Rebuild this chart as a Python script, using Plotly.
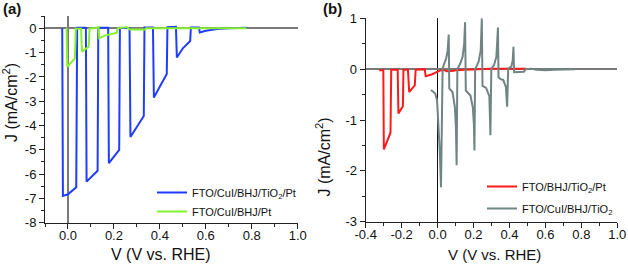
import plotly.graph_objects as go

W, H = 628, 264

# ---------------- Panel (a) data ----------------
a_blue_x = [-0.025, -0.022, 0.0, 0.036, 0.040, 0.078, 0.081, 0.105, 0.129, 0.132, 0.175, 0.178, 0.200, 0.223, 0.226,
            0.268, 0.272, 0.300, 0.330, 0.333, 0.370, 0.374, 0.400, 0.430, 0.433, 0.470, 0.474, 0.500, 0.532, 0.535,
            0.570, 0.574, 0.600, 0.650, 0.700, 0.780]
a_blue_y = [0.0, -6.90, -6.83, -6.54, 0.02, 0.02, -6.31, -6.10, -5.86, 0.02, 0.02, -5.55, -5.30, -5.00, 0.02,
            0.0, -4.47, -4.05, -3.61, 0.03, 0.03, -2.85, -2.40, -1.88, 0.05, 0.06, -1.20, -0.82, -0.52, 0.04,
            0.04, -0.17, -0.10, -0.03, 0.0, 0.02]

a_green_x = [-0.010, -0.006, -0.003, 0.030, 0.034, 0.057, 0.061, 0.090, 0.094, 0.115, 0.133, 0.136, 0.160, 0.190,
             0.213, 0.216, 0.240, 0.256, 0.270, 0.300, 0.336, 0.340, 0.400, 0.500, 0.600, 0.778]
a_green_y = [-0.02, -0.02, -1.58, -1.24, -0.02, -0.02, -0.96, -0.76, -0.01, 0.0, 0.05, -0.41, -0.30, -0.22,
             -0.18, 0.0, 0.02, 0.05, -0.05, -0.05, -0.05, 0.0, 0.0, 0.0, 0.0, 0.0]

# ---------------- Panel (b) data ----------------
b_red_x = [-0.325, -0.302, -0.299, -0.262, -0.258, -0.222, -0.218, -0.193, -0.190, -0.165, -0.158, -0.127, -0.122,
           -0.080, -0.072, -0.066, -0.030, 0.0, 0.020, 0.040, 0.050, 0.090, 0.100, 0.150, 0.200, 0.300, 0.400, 0.490]
b_red_y = [-0.02, -0.02, -1.58, -1.25, -0.01, -0.01, -0.87, -0.73, -0.01, -0.01, -0.45, -0.32, -0.01,
           -0.01, 0.0, -0.14, -0.10, -0.05, -0.02, -0.02, -0.04, -0.03, -0.02, -0.01, 0.0, 0.01, 0.01, 0.01]

b_grey_x = [-0.037, -0.013, -0.003, 0.004, 0.012, 0.019, 0.028, 0.037, 0.048, 0.056, 0.062,
            0.065, 0.083, 0.096, 0.102, 0.106, 0.110, 0.126, 0.139, 0.148, 0.153,
            0.157, 0.183, 0.196, 0.202, 0.205, 0.209, 0.228, 0.240, 0.246,
            0.250, 0.270, 0.288, 0.294, 0.299, 0.314, 0.327, 0.336,
            0.339, 0.352, 0.365, 0.380, 0.387, 0.393, 0.410, 0.418, 0.422,
            0.426, 0.450, 0.480, 0.490, 0.520, 0.550, 0.600, 0.650, 0.700, 0.764]
b_grey_y = [-0.41, -0.48, -0.61, -1.00, -1.60, -2.32, 0.01, 0.11, 0.21, 0.37, 0.68,
            -0.38, -0.45, -0.74, -1.14, -1.89, 0.0, 0.11, 0.24, 0.50, 0.92,
            -0.42, -0.52, -0.75, -1.08, -1.60, 0.0, 0.14, 0.37, 1.00,
            -0.33, -0.37, -0.53, -1.30, 0.01, 0.08, 0.24, 0.82,
            -0.16, -0.20, -0.21, -0.35, -0.74, 0.01, 0.05, 0.17, 0.44,
            -0.06, -0.06, -0.05, 0.0, 0.01, -0.01, -0.02, -0.01, 0.0, 0.0]

# ---------------- Tick labels ----------------
a_xticks = [0.0, 0.2, 0.4, 0.6, 0.8, 1.0]
a_xtext = ["0.0", "0.2", "0.4", "0.6", "0.8", "1.0"]
a_yticks = [0, -1, -2, -3, -4, -5, -6, -7, -8]
a_ytext = ["0", "-1", "-2", "-3", "-4", "-5", "-6", "-7", "-8"]
b_xticks = [-0.4, -0.2, 0.0, 0.2, 0.4, 0.6, 0.8, 1.0]
b_xtext = ["-0.4", "-0.2", "0.0", "0.2", "0.4", "0.6", "0.8", "1.0"]
b_yticks = [1, 0, -1, -2, -3]
b_ytext = ["1", "0", "-1", "-2", "-3"]

names_a = ["FTO/CuI/BHJ/TiO<sub>2</sub>/Pt", "FTO/CuI/BHJ/Pt"]
names_b = ["FTO/BHJ/TiO<sub>2</sub>/Pt", "FTO/CuI/BHJ/TiO<sub>2</sub>"]

FONT = "Arial, Liberation Sans, sans-serif"

fig = go.Figure()
fig.add_trace(go.Scatter(x=a_blue_x, y=a_blue_y, mode="lines", name=names_a[0],
                         line=dict(color="#1f3cff", width=2), xaxis="x", yaxis="y", legend="legend"))
fig.add_trace(go.Scatter(x=a_green_x, y=a_green_y, mode="lines", name=names_a[1],
                         line=dict(color="#86f02c", width=2), xaxis="x", yaxis="y", legend="legend"))
fig.add_trace(go.Scatter(x=b_red_x, y=b_red_y, mode="lines", name=names_b[0], legendgroup="r",
                         line=dict(color="#ff1a1a", width=2), xaxis="x2", yaxis="y2", legend="legend2"))
fig.add_trace(go.Scatter(x=b_grey_x, y=b_grey_y, mode="lines", name=names_b[1], legendgroup="g",
                         line=dict(color="#6f8584", width=2), xaxis="x2", yaxis="y2", legend="legend2"))


def px_x(p):
    return p / W


def px_y(p):
    return 1 - p / H


axis_common = dict(showline=True, linecolor="#222", linewidth=1, ticks="outside", ticklen=5,
                   tickcolor="#222", tickwidth=1, showgrid=False, automargin=False,
                   tickfont=dict(family=FONT, size=13, color="#111"), mirror=False)

fig.update_layout(
    width=W, height=H, margin=dict(l=0, r=0, t=0, b=0),
    paper_bgcolor="white", plot_bgcolor="white", showlegend=True,
    xaxis=dict(domain=[px_x(45), px_x(297.7)], range=[-0.1, 1.0], anchor="y",
               tickvals=a_xticks, ticktext=a_xtext, ticklabelstandoff=-4,
               minor=dict(dtick=0.1, tick0=0, ticks="outside", ticklen=3, tickcolor="#222"),
               zeroline=True, zerolinecolor="#7a7a7a", zerolinewidth=1.5, **axis_common),
    yaxis=dict(domain=[px_y(222.7), px_y(16.2)], range=[-8, 0.5], anchor="x",
               tickvals=a_yticks, ticktext=a_ytext,
               minor=dict(dtick=0.5, tick0=0, ticks="outside", ticklen=3, tickcolor="#222"),
               zeroline=True, zerolinecolor="#7a7a7a", zerolinewidth=1.5, **axis_common),
    xaxis2=dict(domain=[px_x(365.7), px_x(617.3)], range=[-0.4, 1.0], anchor="y2",
                tickvals=b_xticks, ticktext=b_xtext, ticklabelstandoff=-4,
                minor=dict(dtick=0.1, tick0=0, ticks="outside", ticklen=3, tickcolor="#222"),
                zeroline=True, zerolinecolor="#111", zerolinewidth=1, **axis_common),
    yaxis2=dict(domain=[px_y(221.7), px_y(18.3)], range=[-3, 1], anchor="x2",
                tickvals=b_yticks, ticktext=b_ytext,
                minor=dict(dtick=0.5, tick0=0, ticks="outside", ticklen=3, tickcolor="#222"),
                zeroline=True, zerolinecolor="#7a7a7a", zerolinewidth=1.5, **axis_common),
    legend=dict(x=px_x(152), y=px_y(178), xanchor="left", yanchor="top", bgcolor="rgba(0,0,0,0)",
                font=dict(family=FONT, size=11, color="#111"), tracegroupgap=0, itemwidth=30),
    legend2=dict(x=px_x(482), y=px_y(172), xanchor="left", yanchor="top", bgcolor="rgba(0,0,0,0)",
                 font=dict(family=FONT, size=11, color="#111"), tracegroupgap=3, itemwidth=30),
)

ann_font = dict(family=FONT, size=16, color="#111")
common_ann = dict(xref="paper", yref="paper", showarrow=False, xanchor="center", yanchor="middle")
annotations = [
    dict(text="<b>(a)</b>", x=px_x(11.5), y=px_y(9), font=dict(family=FONT, size=15, color="#111"), **common_ann),
    dict(text="<b>(b)</b>", x=px_x(332), y=px_y(9), font=dict(family=FONT, size=15, color="#111"), **common_ann),
    dict(text="V (V vs. RHE)", x=px_x(161), y=px_y(254), font=ann_font, **common_ann),
    dict(text="V (V vs. RHE)", x=px_x(494), y=px_y(254), font=dict(family=FONT, size=15, color="#111"),
         **common_ann),
    dict(text="J (mA/cm<sup>2</sup>)", x=px_x(10), y=px_y(103), textangle=-90, font=ann_font, **common_ann),
    dict(text="J (mA/cm<sup>2</sup>)", x=px_x(323.5), y=px_y(157), textangle=-90, font=ann_font, **common_ann),
]
fig.update_layout(annotations=annotations)

fig.write_html("out.html", config={"displayModeBar": False},
               post_script="document.body.style.margin='0';document.body.style.padding='0';")
